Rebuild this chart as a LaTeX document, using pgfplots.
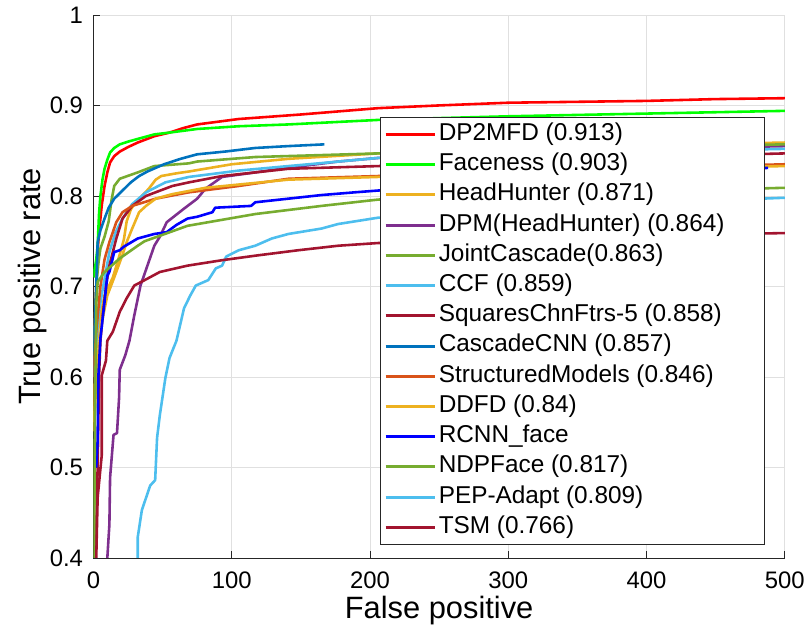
\documentclass[border=0pt]{standalone}
\usepackage{fontspec}
\setmainfont{Liberation Sans}
\usepackage{pgfplots}
\pgfplotsset{compat=1.18}

\definecolor{cRed}{HTML}{FF0000}
\definecolor{cLime}{HTML}{00FF00}
\definecolor{cYel}{HTML}{EDB120}
\definecolor{cPur}{HTML}{7E2F8E}
\definecolor{cOli}{HTML}{77AC30}
\definecolor{cSky}{HTML}{4DBEEE}
\definecolor{cWine}{HTML}{A2142F}
\definecolor{cNavy}{HTML}{0072BD}
\definecolor{cOra}{HTML}{D95319}
\definecolor{cBlu}{HTML}{0000FF}
\definecolor{cAx}{HTML}{262626}

\begin{document}
\begin{tikzpicture}
\begin{axis}[
  scale only axis,
  width=695pt, height=546pt,
  xmin=0, xmax=500, ymin=0.4, ymax=1,
  axis x line=bottom, axis y line=left,
  axis line style={cAx, line width=0.8pt, -},
  xtick={0,100,...,500},
  ytick={0.4,0.5,...,1.0},
  major tick length=7pt,
  tick align=inside,
  tick style={cAx, line width=0.8pt},
  grid=major,
  major grid style={line width=0.8pt, color=black!12},
  /pgf/number format/assume math mode=true,
  tick label style={font=\fontsize{24}{27}\selectfont, color=black},
  xticklabel style={yshift=-10pt},
  yticklabel style={xshift=-7pt},
  xlabel={False positive},
  ylabel={True positive rate},
  label style={font=\fontsize{31}{36}\selectfont},
  xlabel style={yshift=-1pt},
  ylabel style={yshift=-4pt},
  every axis plot/.append style={line width=2.6pt, line join=round},
  legend cell align=left,
  legend image code/.code={\draw[#1, line width=3pt] (0pt,0pt) -- (50pt,0pt);},
  legend style={
    at={(0.414,0.024)}, anchor=south west,
    font=\fontsize{24.5}{28}\selectfont,
    draw=cAx, line width=0.8pt, fill=white,
    inner xsep=4pt, inner ysep=2pt,
    nodes={text height=17pt, text depth=5pt, inner ysep=4.2pt, inner xsep=2pt},
  },
]
% DP2MFD
\addplot[cRed] coordinates {
(0.5,0.64)(1,0.66)(2,0.70)(3,0.74)(4.3,0.764)(6,0.79)(8,0.811)(10,0.826)(12,0.837)
(15,0.844)(19,0.849)(25,0.854)(32,0.859)(44,0.866)(55,0.870)(65,0.875)(75,0.879)
(105,0.885)(150,0.890)(206,0.897)(250,0.900)(300,0.903)(350,0.904)(400,0.905)(450,0.907)(500,0.908)};
% Faceness
\addplot[cLime] coordinates {
(0,0.71)(1,0.72)(2,0.73)(3,0.745)(4,0.78)(5,0.80)(6.5,0.818)(8,0.83)(10,0.84)(12,0.848)
(15,0.853)(19,0.857)(25,0.860)(32,0.863)(44,0.868)(55,0.870)(75,0.874)(105,0.877)
(141,0.879)(206,0.884)(250,0.886)(300,0.888)(400,0.891)(500,0.894)};
% HeadHunter
\addplot[cYel] coordinates {
(0.5,0.54)(1,0.60)(2,0.63)(4,0.66)(8,0.69)(14,0.71)(18,0.73)(22,0.752)(24,0.772)
(27,0.785)(30,0.792)(35,0.80)(40,0.808)(45,0.818)(49,0.822)(60,0.825)(69,0.827)
(100,0.835)(141,0.841)(206,0.847)(300,0.852)(400,0.856)(500,0.859)};
% DPM(HeadHunter)
\addplot[cPur] coordinates {
(10,0.40)(11.5,0.437)(12,0.489)(14.5,0.536)(17,0.538)(18.5,0.577)(19,0.608)(23,0.624)
(26,0.640)(29.5,0.668)(34,0.701)(39,0.723)(44,0.745)(48,0.755)(53,0.771)(65.5,0.786)
(75,0.797)(81,0.808)(93,0.821)(117,0.826)(140,0.831)(177,0.838)(206,0.842)(300,0.848)
(400,0.852)(500,0.855)};
% JointCascade
\addplot[cOli] coordinates {
(0,0.60)(1,0.66)(2,0.70)(3.5,0.725)(5,0.742)(8,0.755)(11,0.772)(13,0.795)(15,0.811)
(19,0.819)(32,0.826)(44,0.833)(69,0.836)(75,0.838)(117,0.843)(206,0.847)(300,0.851)
(400,0.854)(500,0.857)};
% CCF
\addplot[cSky] coordinates {
(0,0.60)(2,0.64)(4,0.673)(7,0.70)(11.5,0.738)(16,0.76)(21,0.775)(28,0.791)(38,0.804)
(52,0.815)(69,0.821)(105,0.828)(141,0.833)(206,0.842)(300,0.846)(400,0.849)(500,0.852)};
% SquaresChnFtrs-5
\addplot[cWine] coordinates {
(1.5,0.40)(3,0.50)(4,0.60)(5,0.64)(6.5,0.665)(9,0.70)(11.5,0.723)(16.5,0.753)(21,0.775)
(28,0.789)(38,0.800)(57,0.811)(69,0.815)(93,0.822)(141,0.830)(206,0.833)(300,0.839)
(400,0.843)(500,0.847)};
% CascadeCNN
\addplot[cNavy] coordinates {
(0,0.60)(1,0.66)(2,0.70)(3,0.749)(5,0.762)(8,0.775)(11,0.787)(15,0.797)(21,0.806)
(27,0.815)(33,0.822)(39,0.827)(51,0.835)(63,0.841)(75,0.846)(95,0.849)(117,0.853)
(140,0.855)(167,0.857)};
% StructuredModels
\addplot[cOra] coordinates {
(0,0.60)(2,0.65)(5,0.70)(8,0.73)(11.5,0.749)(16.5,0.771)(21,0.782)(28,0.789)(45,0.797)
(69,0.804)(105,0.811)(141,0.819)(206,0.822)(300,0.827)(400,0.831)(500,0.835)};
% DDFD
\addplot[cYel] coordinates {
(0.5,0.55)(3,0.62)(6,0.66)(10,0.69)(15,0.71)(21,0.735)(24,0.749)(28,0.764)(33,0.782)
(38,0.789)(45,0.797)(57,0.802)(81,0.809)(141,0.818)(206,0.821)(300,0.826)(400,0.830)(500,0.833)};
% RCNN_face
\addplot[cBlu] coordinates {
(2,0.50)(3,0.53)(3.5,0.60)(5,0.643)(8,0.683)(10,0.712)(11.5,0.716)(15,0.738)(19,0.740)
(22,0.744)(32,0.753)(44,0.758)(53,0.760)(60,0.768)(68,0.775)(75,0.777)(86,0.782)(88,0.787)
(114,0.789)(117,0.793)(141,0.797)(165,0.801)(189,0.804)(206,0.806)(250,0.810)(300,0.815)
(400,0.824)(488,0.831)};
% NDPFace
\addplot[cOli] coordinates {
(0.5,0.40)(1,0.55)(2,0.68)(3,0.705)(8,0.716)(19,0.731)(32,0.745)(37,0.750)(48,0.756)
(68,0.767)(117,0.780)(165,0.789)(206,0.796)(300,0.801)(400,0.805)(500,0.809)};
% PEP-Adapt
\addplot[cSky] coordinates {
(32,0.40)(32,0.423)(35,0.453)(41,0.480)(44.6,0.486)(46,0.533)(48,0.558)(52,0.599)
(55,0.621)(60,0.640)(65.5,0.676)(70,0.690)(74,0.701)(83,0.707)(88.5,0.720)(93,0.723)
(96,0.733)(105,0.740)(117,0.745)(129,0.753)(141,0.758)(165,0.764)(177,0.769)(206,0.776)
(300,0.786)(400,0.792)(500,0.798)};
% TSM
\addplot[cWine] coordinates {
(2,0.40)(3,0.467)(6,0.514)(6,0.602)(9,0.618)(10,0.640)(14,0.650)(19,0.672)(24,0.687)
(29.5,0.701)(37,0.707)(48,0.716)(68,0.723)(93,0.729)(117,0.734)(148,0.740)(177,0.745)
(206,0.748)(300,0.752)(400,0.756)(500,0.759)};
\legend{DP2MFD (0.913),Faceness (0.903),HeadHunter (0.871),DPM(HeadHunter) (0.864)\hspace*{34pt},
JointCascade(0.863),CCF (0.859),SquaresChnFtrs-5 (0.858),CascadeCNN (0.857),
StructuredModels (0.846),DDFD (0.84),RCNN\_face,NDPFace (0.817),PEP-Adapt (0.809),TSM (0.766)}
\end{axis}
\path[use as bounding box] (-94pt,-76pt) rectangle (714pt,561pt);
\end{tikzpicture}
\end{document}
